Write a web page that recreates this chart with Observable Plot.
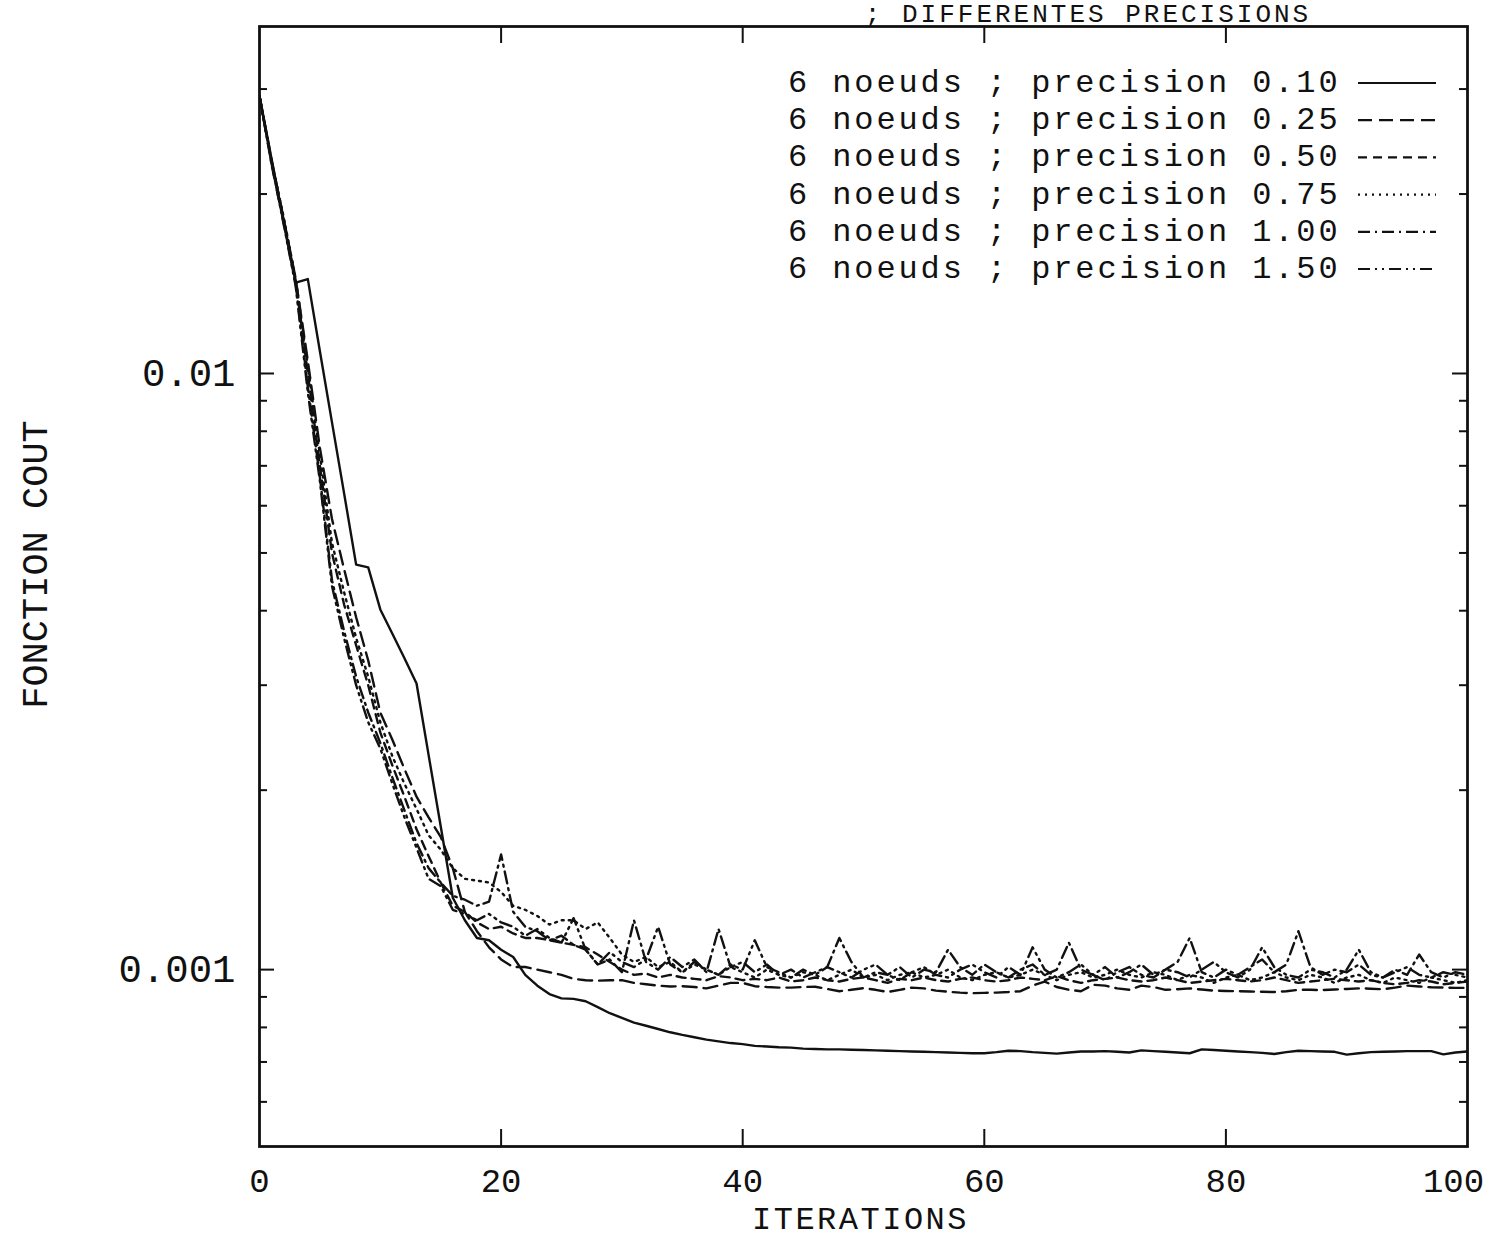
<!DOCTYPE html>
<html>
<head>
<meta charset="utf-8">
<script src="https://cdn.jsdelivr.net/npm/d3@7"></script>
<script src="https://cdn.jsdelivr.net/npm/@observablehq/plot@0.6"></script>
<style>
html, body { margin: 0; padding: 0; background: #fff; overflow: hidden; width: 1488px; height: 1238px; }
#page { position: relative; width: 1488px; height: 1238px; background: #fff; }
#chart { position: absolute; left: 0; top: 0; }
#annot { position: absolute; left: 0; top: 0; pointer-events: none; }
#annot text { font-family: "Liberation Mono", monospace; fill: #111; }
</style>
</head>
<body>
<div id="page">
  <div id="chart"></div>
  <svg id="annot" width="1488" height="320"></svg>
</div>
<script>
// ---------- data ----------
const iterations = Array.from({length: 101}, (_, i) => i);

const cost_p010 = [
0.0292, 0.0229, 0.0180, 0.0142, 0.0144, 0.0109, 0.00828, 0.0063, 0.00478, 0.00473,
0.00402, 0.00366, 0.00333, 0.00302, 0.00229, 0.00174, 0.00132, 0.00121, 0.00113, 0.00112,
0.00108, 0.00105, 0.00098, 0.00094, 0.00091, 0.000895, 0.000893, 0.000885, 0.000865, 0.000845,
0.00083, 0.000815, 0.000805, 0.000795, 0.000785, 0.000777, 0.00077, 0.000763, 0.000758, 0.000753,
0.00075, 0.000745, 0.000743, 0.000741, 0.00074, 0.000737, 0.000736, 0.000735, 0.000735, 0.000734,
0.000733, 0.000732, 0.000731, 0.00073, 0.000729, 0.000728, 0.000727, 0.000726, 0.000725, 0.000724,
0.000724, 0.000727, 0.000731, 0.00073, 0.000727, 0.000725, 0.000723, 0.000726, 0.000729, 0.000729,
0.00073, 0.000728, 0.000726, 0.000732, 0.00073, 0.000728, 0.000726, 0.000724, 0.000735, 0.000733,
0.000731, 0.000729, 0.000727, 0.000725, 0.000722, 0.000727, 0.000731, 0.00073, 0.000729, 0.000728,
0.00072, 0.000724, 0.000727, 0.000728, 0.000729, 0.00073, 0.00073, 0.00073, 0.000721, 0.000726,
0.000729];

const cost_p025 = [
0.0292, 0.0228, 0.0182, 0.0144, 0.0105, 0.0075, 0.0057, 0.0047, 0.0039, 0.0033,
0.0027, 0.00243, 0.00217, 0.00195, 0.0018, 0.00167, 0.00148, 0.00125, 0.00116, 0.00109,
0.00104, 0.00101, 0.00101, 0.001, 0.00099, 0.00098, 0.000965, 0.00096, 0.000958, 0.00096,
0.00096, 0.00095, 0.000945, 0.00094, 0.000937, 0.000938, 0.000935, 0.00093, 0.00094, 0.00095,
0.00095, 0.000938, 0.000935, 0.000933, 0.000933, 0.000935, 0.000936, 0.000928, 0.00092, 0.000925,
0.000931, 0.000925, 0.000917, 0.000925, 0.000933, 0.00093, 0.000922, 0.000918, 0.000915, 0.000913,
0.000914, 0.000915, 0.000917, 0.00092, 0.00094, 0.000955, 0.000935, 0.000925, 0.00092, 0.000943,
0.00094, 0.00093, 0.000925, 0.00094, 0.000935, 0.000925, 0.000927, 0.00093, 0.000926, 0.000922,
0.000921, 0.00092, 0.000919, 0.000918, 0.000917, 0.00092, 0.000925, 0.000925, 0.000924, 0.000926,
0.000928, 0.00093, 0.000929, 0.000927, 0.000933, 0.00094, 0.000937, 0.000934, 0.000933, 0.000932,
0.000932];

const cost_p050 = [
0.0292, 0.0226, 0.0181, 0.0143, 0.0100, 0.0070, 0.0050, 0.0041, 0.0035, 0.0030,
0.0025, 0.0022, 0.00195, 0.00172, 0.00155, 0.0014, 0.00128, 0.00125, 0.0012, 0.00117,
0.00118, 0.00115, 0.00113, 0.00113, 0.00112, 0.00111, 0.0011, 0.00109, 0.00106, 0.00103,
0.001, 0.00098, 0.000985, 0.00097, 0.00098, 0.00097, 0.000965, 0.00096, 0.000975, 0.00097,
0.00096, 0.000965, 0.00096, 0.00097, 0.000955, 0.00096, 0.00097, 0.00096, 0.000955, 0.000965,
0.00097, 0.00096, 0.00095, 0.000965, 0.00096, 0.00097, 0.00096, 0.000955, 0.000965, 0.00097,
0.00096, 0.000955, 0.00096, 0.00097, 0.000965, 0.00096, 0.000975, 0.00096, 0.00095, 0.00096,
0.000965, 0.00097, 0.00096, 0.000955, 0.00096, 0.00097, 0.00096, 0.00095, 0.000955, 0.00096,
0.000965, 0.00096, 0.000955, 0.00096, 0.00097, 0.00096, 0.00095, 0.000955, 0.00096, 0.000965,
0.00096, 0.000955, 0.00096, 0.00095, 0.000945, 0.00095, 0.00096, 0.000955, 0.000945, 0.00095,
0.000955];

const cost_p075 = [
0.0292, 0.0227, 0.0183, 0.0144, 0.0103, 0.0073, 0.0052, 0.0043, 0.0036, 0.0031,
0.0026, 0.00228, 0.00205, 0.00186, 0.00168, 0.00159, 0.00148, 0.00142, 0.00141, 0.0014,
0.00135, 0.00128, 0.00126, 0.00123, 0.00119, 0.00121, 0.00121, 0.00117, 0.0012, 0.00113,
0.00106, 0.00103, 0.00105, 0.00101, 0.00103, 0.00099, 0.00102, 0.001, 0.00098, 0.00101,
0.00099, 0.00097, 0.001, 0.00098, 0.00097, 0.00099, 0.00098, 0.00096, 0.00098, 0.001,
0.00097, 0.00098, 0.00096, 0.00098, 0.00099, 0.00097, 0.00098, 0.001, 0.00097, 0.00096,
0.00098, 0.00099, 0.00097, 0.00098, 0.001, 0.00098, 0.00096, 0.00098, 0.00099, 0.00097,
0.00098, 0.001, 0.00098, 0.00097, 0.00099, 0.00098, 0.00096, 0.00098, 0.00097, 0.00095,
0.00097, 0.00098, 0.00096, 0.00097, 0.00099, 0.00097, 0.00096, 0.00098, 0.00097, 0.00095,
0.00097, 0.00098, 0.00096, 0.00095, 0.00097, 0.00096, 0.00095, 0.00097, 0.00096, 0.00095,
0.00096];

const cost_p100 = [
0.0292, 0.0224, 0.0179, 0.0141, 0.0095, 0.0067, 0.0045, 0.0037, 0.0031, 0.0027,
0.0024, 0.0021, 0.00185, 0.00163, 0.00148, 0.0014, 0.00133, 0.00131, 0.00128, 0.0013,
0.00156, 0.00125, 0.00118, 0.00116, 0.00112, 0.00114, 0.0011, 0.00108, 0.00102, 0.00104,
0.00099, 0.00121, 0.00103, 0.001, 0.00105, 0.00101, 0.00104, 0.00099, 0.00117, 0.00101,
0.00103, 0.00099, 0.00102, 0.00098, 0.001, 0.00097, 0.00099, 0.00101, 0.00113, 0.00103,
0.00097, 0.00099, 0.00098, 0.00101, 0.00097, 0.001, 0.00099, 0.00108, 0.00101, 0.00098,
0.00102, 0.00099, 0.00097, 0.001, 0.00102, 0.00098, 0.001, 0.00111, 0.001, 0.00098,
0.00101, 0.00097, 0.00099, 0.00102, 0.00098, 0.001, 0.00103, 0.00113, 0.00099, 0.00097,
0.001, 0.00098, 0.00101, 0.00104, 0.00099, 0.00102, 0.00116, 0.00101, 0.00098, 0.001,
0.00099, 0.00102, 0.00098, 0.00097, 0.001, 0.00098, 0.00106, 0.00099, 0.00097, 0.00099,
0.00098];

const cost_p150 = [
0.0292, 0.0225, 0.0178, 0.0140, 0.0093, 0.0066, 0.0044, 0.0036, 0.0030, 0.0026,
0.00235, 0.00205, 0.0018, 0.0016, 0.00142, 0.00138, 0.00126, 0.00124, 0.00121, 0.00124,
0.0012, 0.00118, 0.00114, 0.00117, 0.00113, 0.00111, 0.00122, 0.00108, 0.00102, 0.00107,
0.00103, 0.00101, 0.00104, 0.00118, 0.00102, 0.00099, 0.00103, 0.001, 0.00098, 0.00102,
0.001, 0.00112, 0.00101, 0.00099, 0.00097, 0.001, 0.00098, 0.00101, 0.00099, 0.00097,
0.001, 0.00102, 0.00098, 0.00096, 0.00099, 0.00101, 0.00098, 0.00097, 0.001, 0.00102,
0.00099, 0.00097, 0.00101, 0.00098, 0.00109, 0.001, 0.00097, 0.00099, 0.00102, 0.00098,
0.00096, 0.00099, 0.00101, 0.00098, 0.00097, 0.001, 0.00099, 0.00097, 0.001, 0.00103,
0.00099, 0.00097, 0.001, 0.00109, 0.00101, 0.00098, 0.00097, 0.001, 0.00099, 0.00097,
0.001, 0.00108, 0.00099, 0.00097, 0.00099, 0.00101, 0.00098, 0.00097, 0.00099, 0.00098,
0.00097];

const seriesLabels = [
  "6 noeuds ; precision 0.10",
  "6 noeuds ; precision 0.25",
  "6 noeuds ; precision 0.50",
  "6 noeuds ; precision 0.75",
  "6 noeuds ; precision 1.00",
  "6 noeuds ; precision 1.50"
];
const seriesValues = [cost_p010, cost_p025, cost_p050, cost_p075, cost_p100, cost_p150];

const titleText = "; DIFFERENTES PRECISIONS";
const xLabel = "ITERATIONS";
const yLabel = "FONCTION COUT";
const xTickValues = [0, 20, 40, 60, 80, 100];
const xTickLabels = ["0", "20", "40", "60", "80", "100"];
const xInnerTicks = [20, 40, 60, 80];
const yTickValues = [0.001, 0.01];
const yTickLabels = ["0.001", "0.01"];
const yMinorTicks = [0.0006, 0.0007, 0.0008, 0.0009, 0.002, 0.003, 0.004, 0.005,
                     0.006, 0.007, 0.008, 0.009, 0.02, 0.03];

// ---------- styles ----------
const lineDashes = ["none", "14,7", "9,6", "2,5", "12,5,2,5", "12,5,2,5,2,5"];
const ink = "#111";

// ---------- layout ----------
const W = 1488, H = 1238;
const frameL = 259, frameT = 26, frameR = 1467, frameB = 1146;
const frameW = frameR - frameL, frameH = frameB - frameT;

const rows = [];
seriesValues.forEach((vals, s) => {
  vals.forEach((v, i) => rows.push({series: seriesLabels[s], it: iterations[i], v}));
});

const lineMarks = seriesLabels.map((lab, s) =>
  Plot.line(rows.filter(r => r.series === lab), {
    x: "it", y: "v", stroke: ink, strokeWidth: 2.4,
    strokeDasharray: lineDashes[s] === "none" ? null : lineDashes[s],
    clip: true
  })
);

const tickFmtX = d => xTickLabels[xTickValues.indexOf(d)];
const lastX = xTickValues[xTickValues.length - 1];

const chart = Plot.plot({
  width: W, height: H,
  marginLeft: frameL, marginTop: frameT, marginRight: W - frameR, marginBottom: H - frameB,
  x: {domain: [0, 100]},
  y: {type: "log", domain: [0.000505, 0.0382]},
  style: {fontFamily: "Liberation Mono, monospace", color: ink, background: "transparent",
          fontSize: "37px", overflow: "visible"},
  marks: [
    ...lineMarks,
    Plot.frame({stroke: ink, strokeWidth: 2.8}),
    // inward ticks, bottom & top
    Plot.tickX(xInnerTicks, {x: d => d, insetTop: frameH - 17, stroke: ink, strokeWidth: 2}),
    Plot.tickX(xInnerTicks, {x: d => d, insetBottom: frameH - 17, stroke: ink, strokeWidth: 2}),
    // left & right y ticks
    Plot.tickY(yTickValues, {y: d => d, insetRight: frameW - 15, stroke: ink, strokeWidth: 2}),
    Plot.tickY(yMinorTicks, {y: d => d, insetRight: frameW - 8, stroke: ink, strokeWidth: 2}),
    Plot.tickY(yTickValues, {y: d => d, insetLeft: frameW - 15, stroke: ink, strokeWidth: 2}),
    Plot.tickY(yMinorTicks, {y: d => d, insetLeft: frameW - 8, stroke: ink, strokeWidth: 2}),
    Plot.axisX({ticks: xTickValues.filter(d => d !== lastX), tickFormat: tickFmtX,
                tickSize: 0, tickPadding: 21, fontSize: 34, label: null}),
    Plot.axisX({ticks: [lastX], tickFormat: tickFmtX, dx: -14,
                tickSize: 0, tickPadding: 21, fontSize: 34, label: null}),
    Plot.axisY({ticks: yTickValues, tickFormat: d => yTickLabels[yTickValues.indexOf(d)],
                tickSize: 0, tickPadding: 24, fontSize: 39, label: null}),
    Plot.text([xLabel], {text: d => d, frameAnchor: "bottom", dy: 82, dx: -3, fontSize: 32,
                         textAnchor: "middle", lineAnchor: "bottom"}),
    Plot.text([yLabel], {text: d => d, frameAnchor: "left", dx: -224, dy: -22, rotate: -90,
                         fontSize: 37, textAnchor: "middle", lineAnchor: "middle"})
  ]
});
document.getElementById("chart").appendChild(chart);
d3.select(chart).selectAll("text")
  .filter(function () { return this.textContent === xLabel; })
  .attr("letter-spacing", "2.5px");

// ---------- legend & title (title kept fully visible above the frame) ----------
const annot = d3.select("#annot");
annot.append("text").attr("x", 1088).attr("y", 22).attr("font-size", 26)
  .attr("letter-spacing", "3px").attr("text-anchor", "middle").text(titleText);

const legX = 788, legY0 = 92, legStep = 37.2, sampleX1 = 1358, sampleX2 = 1436;
seriesLabels.forEach((lab, i) => {
  const by = legY0 + i * legStep;
  annot.append("text").attr("x", legX).attr("y", by)
    .attr("font-size", 32).attr("letter-spacing", "2.9px").text(lab);
  annot.append("line")
    .attr("x1", sampleX1).attr("x2", sampleX2)
    .attr("y1", by - 9).attr("y2", by - 9)
    .attr("stroke", ink).attr("stroke-width", 2.2)
    .attr("stroke-dasharray", lineDashes[i] === "none" ? null : lineDashes[i]);
});
</script>
</body>
</html>
